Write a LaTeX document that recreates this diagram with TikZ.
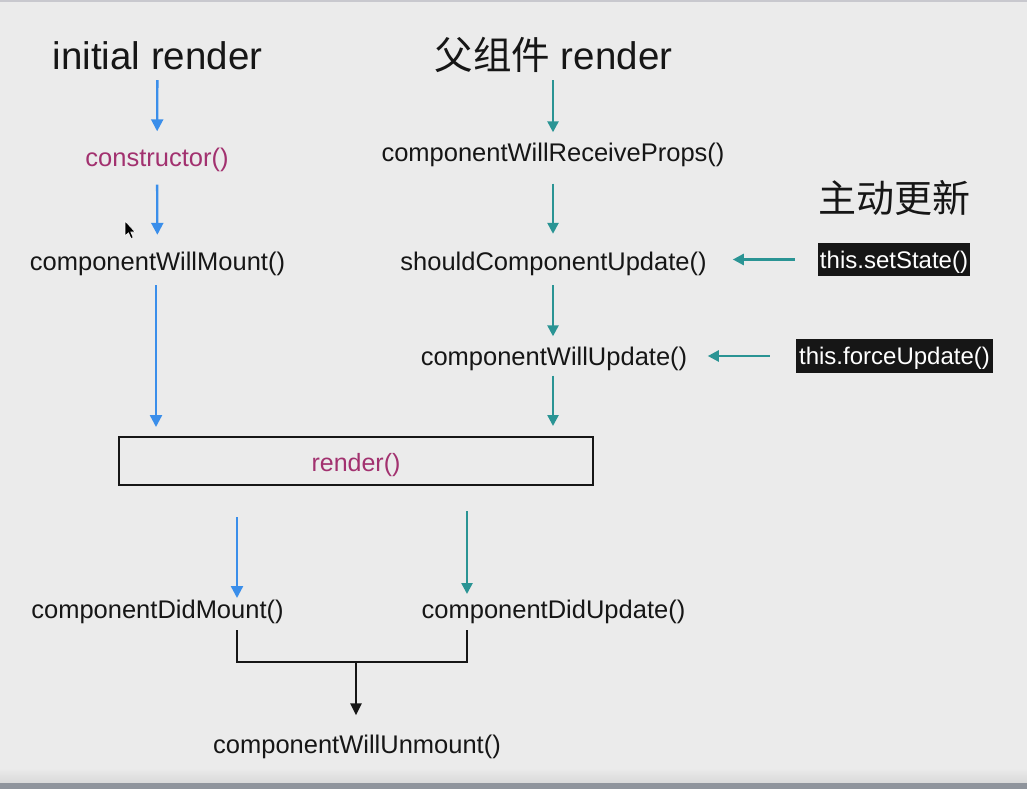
\documentclass[tikz,border=0pt]{standalone}
\usepackage{fontspec}
\setmainfont{Liberation Sans}
\newfontfamily\cjk{Noto Sans CJK SC}
\usetikzlibrary{arrows.meta}
\definecolor{bg}{HTML}{EBEBEB}
\definecolor{topline}{HTML}{C8C8CE}
\definecolor{ablue}{HTML}{3A8EEA}
\definecolor{ateal}{HTML}{2A9494}
\definecolor{mag}{HTML}{A2316F}
\definecolor{ink}{HTML}{161616}
\definecolor{strip}{HTML}{8F949C}
\tikzset{
  lbl/.style={inner sep=0pt, text=ink, font=\fontsize{25.5}{30}\selectfont, text height=18pt, text depth=6pt},
  maglbl/.style={inner sep=0pt, text=mag, font=\fontsize{25}{30}\selectfont, text height=18pt, text depth=6pt},
  title/.style={inner sep=0pt, text=ink, font=\fontsize{38.5}{44}\selectfont, text height=28pt, text depth=0pt},
  blackbox/.style={fill=ink, text=white, inner sep=1pt, font=\fontsize{24}{28}\selectfont, text height=21pt, text depth=3.6pt},
  barr/.style={draw=ablue, line width=2.3pt, -{Triangle[width=12pt,length=12pt]}},
  tarr/.style={draw=ateal, line width=2.5pt, -{Triangle[width=11pt,length=11pt]}},
  karr/.style={draw=ink, line width=2.8pt, -{Triangle[width=11pt,length=12pt]}},
  bracket/.style={draw=ink, line width=2.8pt},
}
\begin{document}
\begin{tikzpicture}[x=1pt,y=-1pt]
\useasboundingbox (0,0) rectangle (1027,789);
\fill[bg] (0,0) rectangle (1027,789);
\fill[topline] (0,0) rectangle (1027,2);
\shade[top color=bg, bottom color=black!15] (0,768) rectangle (1027,783);
\fill[strip] (0,783) rectangle (1027,789);

% left column
\node[title] (init) at (157.5,56) {initial render};
\node[maglbl, font=\fontsize{25.5}{30}\selectfont] (ctor) at (157,160.5) {constructor()};
\node[lbl] (wm) at (157.5,264) {componentWillMount()};

% right column
\node[title] (par) at (553.5,56) {{\cjk 父组件} render};
\node[lbl] (rp) at (553,155.5) {componentWillReceiveProps()};
\node[lbl] (scu) at (553.5,264) {shouldComponentUpdate()};
\node[lbl] (cwu) at (554,359.5) {componentWillUpdate()};

\node[title, font=\cjk\fontsize{38}{44}\selectfont] (active) at (894,198) {主动更新};
\node[blackbox, minimum width=152pt, minimum height=33pt] (ss) at (894,259.5) {this.setState()};
\node[blackbox, minimum width=197pt, minimum height=34pt] (fu) at (894.5,356) {this.forceUpdate()};

% render box
\node[draw=ink, line width=2pt, minimum width=474pt, minimum height=48pt, inner sep=0pt] (render) at (356,461) {};
\node[maglbl] (rtxt) at (356,465) {render()};

% bottom
\node[lbl] (cdm) at (157.5,612.5) {componentDidMount()};
\node[lbl] (cdu) at (553.5,612.5) {componentDidUpdate()};
\node[lbl] (cwum) at (357,747.5) {componentWillUnmount()};

% arrows left
\draw[barr, shorten <=10pt, shorten >=17pt] (init) -- (ctor);
\draw[barr, shorten <=12pt, shorten >=17pt] (ctor) -- (wm);
\draw[barr, shorten <=9pt, shorten >=9pt] (wm.south -| 156,0) -- (render.north -| 156,0);

% arrows right
\draw[tarr, shorten <=10pt, shorten >=11pt] (par.south -| rp.north) -- (rp.north);
\draw[tarr, shorten <=16pt, shorten >=18pt] (rp.south) -- (rp.south |- scu.north);
\draw[tarr, shorten <=9pt, shorten >=11pt] (rp.south |- scu.south) -- (rp.south |- cwu.north);
\draw[tarr, shorten <=4pt, shorten >=10pt] (rp.south |- cwu.south) -- (rp.south |- render.north);

% side arrows
\draw[tarr] ([xshift=-23pt]ss.west) -- ([xshift=-85pt]ss.west);
\draw[tarr] ([xshift=-26pt]fu.west) -- ([xshift=-88pt]fu.west);

% bottom arrows
\coordinate (dm1) at (237,517);
\coordinate (dm2) at (237,598);
\coordinate (du1) at (467,511);
\coordinate (du2) at (467,594);
\draw[barr] (dm1) -- (dm2);
\draw[tarr] (du1) -- (du2);

\coordinate (bl) at (237,630);
\coordinate (br) at (467,630);
\coordinate (bm) at (356,662);
\draw[bracket] (bl) -- (bl |- bm) -- (br |- bm) -- (br);
\draw[karr, shorten >=20pt] (bm) -- (bm |- cwum.north);

% mouse cursor
\filldraw[fill=black, draw=white, line width=0.6pt]
  (125,221) -- (125,236) -- (128.5,232.8) -- (131,238.5) -- (133.2,237.6) -- (130.8,232) -- (135.2,232) -- cycle;
\end{tikzpicture}
\end{document}
